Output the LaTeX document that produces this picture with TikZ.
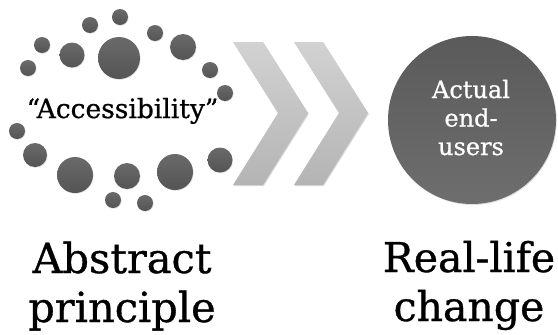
\documentclass[tikz,border=0pt]{standalone}
\usepackage{fontspec}
\setmainfont[FakeBold=0.8]{DejaVu Serif}
\usetikzlibrary{shadows}
\definecolor{dottop}{HTML}{6A6A6A}
\definecolor{dotbot}{HTML}{545454}
\definecolor{chevtop}{HTML}{D2D2D2}
\definecolor{chevbot}{HTML}{B4B4B4}
\definecolor{bigtop}{HTML}{5A5A5A}
\definecolor{bigbot}{HTML}{6E6E6E}
\begin{document}
\begin{tikzpicture}[x=1pt,y=-1pt,
  dotshape/.style={top color=dottop,bottom color=dotbot,draw=none,
    drop shadow={opacity=0.25,shadow xshift=0.6pt,shadow yshift=-0.8pt}},
  chevshape/.style={top color=chevtop,bottom color=chevbot,draw=none,
    drop shadow={opacity=0.3,shadow xshift=0.8pt,shadow yshift=-1pt}},
  bigshape/.style={circle,minimum size=168pt,inner sep=0pt,top color=bigtop,bottom color=bigbot,draw=none,
    drop shadow={opacity=0.25,shadow xshift=0.8pt,shadow yshift=-1pt}},
  lbl/.style={align=center,inner sep=0pt}]
\useasboundingbox (0,0) rectangle (558,335);
% dots
\foreach \cx/\cy/\r in {120/17/8, 90/25/8, 155/33/8, 42/45/8, 72/55/12.5, 119/58/21,
  183/47/13, 28/68/8, 210/70/8, 225/93/8, 17/131/8, 35/155/12, 75/175/18,
  127/176/13, 175/172/18, 220/160/12.5, 113/200/8, 145/203/8}
  \shade[dotshape] (\cx,\cy) circle[radius=\r];
% chevrons
\shade[chevshape] (233,42) -- (263,42) -- (308,113) -- (263,185) -- (233,185) -- (278,113) -- cycle;
\shade[chevshape] (294,42) -- (323,42) -- (368,113) -- (323,185) -- (294,185) -- (339,113) -- cycle;
% big circle
\node[bigshape] (big) at (472,120) {};
\node[lbl,text=white,font=\fontsize{24}{28.5}\selectfont,anchor=base] (users) at (471,155) {Actual\\end-\\users};
% text
\node[lbl,font=\fontsize{26.5}{29}\selectfont,anchor=base] (acc) at (122.5,118) {“Accessibility”};
\node[lbl,font=\fontsize{41.5}{49}\selectfont,anchor=base] (abs) at (122,322) {Abstract\\principle};
\node[lbl,font=\fontsize{41}{49}\selectfont,anchor=base] (real) at (469,321) {Real-life\\change};
\end{tikzpicture}
\end{document}
